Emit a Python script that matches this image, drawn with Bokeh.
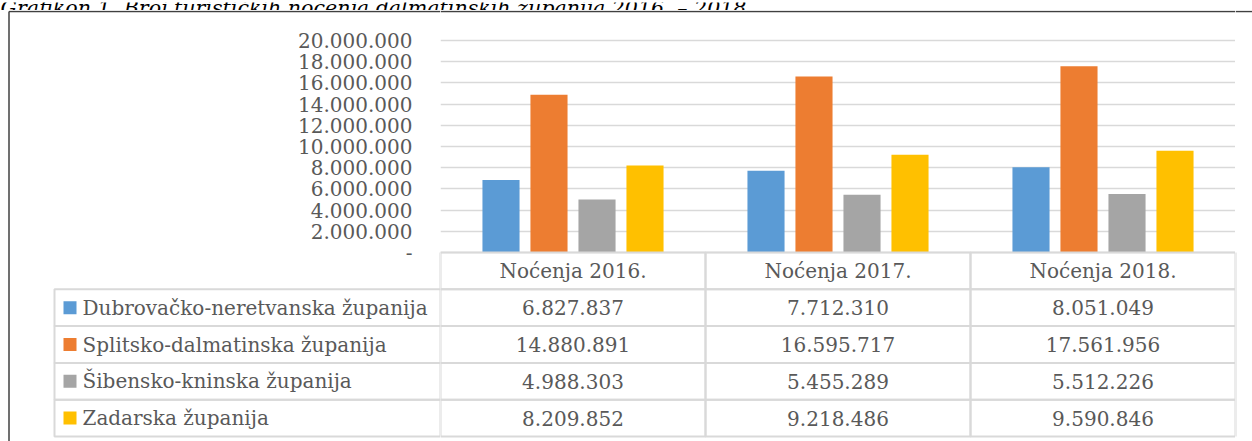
from bokeh.plotting import figure
from bokeh.layouts import column, row
from bokeh.models import ColumnDataSource, FactorRange, Range1d, FixedTicker, Grid
from bokeh.transform import dodge
from bokeh.core.properties import value
from bokeh.embed import file_html
from bokeh.resources import INLINE

# ---------------- data ----------------
title_text = "Grafikon 1. Broj turističkih noćenja dalmatinskih županija 2016. – 2018."
categories = ["Noćenja 2016.", "Noćenja 2017.", "Noćenja 2018."]
series_names = ["Dubrovačko-neretvanska županija", "Splitsko-dalmatinska županija",
                "Šibensko-kninska županija", "Zadarska županija"]
dubrovacko = [6827837, 7712310, 8051049]
splitsko = [14880891, 16595717, 17561956]
sibensko = [4988303, 5455289, 5512226]
zadarska = [8209852, 9218486, 9590846]
series_colors = ["#5B9BD5", "#ED7D31", "#A5A5A5", "#FFC000"]
y_ticks = [0, 2000000, 4000000, 6000000, 8000000, 10000000,
           12000000, 14000000, 16000000, 18000000, 20000000]
y_tick_labels = ["-", "2.000.000", "4.000.000", "6.000.000", "8.000.000", "10.000.000",
                 "12.000.000", "14.000.000", "16.000.000", "18.000.000", "20.000.000"]

# ---------------- layout / style constants (pixels) ----------------
FONT = "DejaVu Serif"
FS = "20px"
TXT = "#595959"
GRID = "#D9D9D9"
BOX = "#404040"
PAGE_W, PAGE_H = 1252, 441
TOP_H = 10                 # strip holding the (cut-off) caption
BODY_H = PAGE_H - TOP_H
LEFT_W = 440               # legend column / y labels
PLOT_R = 1235              # right edge of plot area and table
EDGE_W = PAGE_W - PLOT_R
MAIN_W = PLOT_R - LEFT_W
Y_ZERO = 252               # pixel row of value 0
Y_TOPTICK = 40             # pixel row of the highest tick
BOX_X, BOX_Y = 8.5, 11
TABLE_L = 54
ROW_H = 36.8
LEG_SQ_X = 69.5
LEG_TXT_X = 82
LABEL_R = 412

def fmt(v):
    return f"{v:,}".replace(",", ".")

series_values = [dubrovacko, splitsko, sibensko, zadarska]
keys = ["d", "s", "sib", "z"]

# value range mapped on the full body height
vpp = y_ticks[-1] / (Y_ZERO - Y_TOPTICK)
VR = Range1d(-(PAGE_H - Y_ZERO) * vpp, y_ticks[-1] + (Y_TOPTICK - TOP_H) * vpp)
PX = Range1d(PAGE_H, TOP_H)  # pixel rows, top-down
row_centers = [Y_ZERO + ROW_H * (i + 0.5) for i in range(len(series_names) + 1)]
table_bottom = Y_ZERO + ROW_H * (len(series_names) + 1)

def base(width, height, x_range, y_range):
    f = figure(width=width, height=height, x_range=x_range, y_range=y_range,
               output_backend="svg", toolbar_location=None, x_axis_location=None,
               y_axis_location=None, min_border=0)
    f.outline_line_color = None
    f.grid.visible = False
    return f

# ---------------- caption strip ----------------
top = base(PAGE_W, TOP_H, Range1d(0, PAGE_W), Range1d(TOP_H, 0))
top.text(x=[0], y=[5.5], text=[title_text], text_font=value(FONT), text_font_size="20.6px",
         text_font_style="italic", text_color="#000000", text_baseline="alphabetic",
         text_align="left")

# ---------------- left part: y labels + legend column ----------------
left = base(LEFT_W, BODY_H, Range1d(0, LEFT_W), VR)
left.extra_y_ranges = {"px": PX}
left.segment(x0=[BOX_X], y0=[BOX_Y], x1=[LEFT_W], y1=[BOX_Y], y_range_name="px",
             line_color=BOX, line_width=1.5)
left.segment(x0=[BOX_X], y0=[BOX_Y], x1=[BOX_X], y1=[PAGE_H], y_range_name="px",
             line_color=BOX, line_width=1.5)
left.text(x=LABEL_R, y=y_ticks, text=y_tick_labels, text_font=value(FONT),
          text_font_size=FS, text_color=TXT, text_align="right", text_baseline="middle")
left.segment(x0=[LEFT_W], y0=[Y_ZERO], x1=[LEFT_W], y1=[Y_ZERO + ROW_H], y_range_name="px",
             line_color=GRID, line_width=2)
left.rect(x=(TABLE_L + LEFT_W) / 2, y=row_centers[1:], width=LEFT_W - TABLE_L, height=ROW_H,
          y_range_name="px", fill_color=None, line_color=GRID, line_width=2)
left.rect(x=LEG_SQ_X, y=row_centers[1:], width=13, height=13, y_range_name="px",
          fill_color=series_colors, line_color=None)
left.text(x=LEG_TXT_X, y=row_centers[1:], text=series_names, y_range_name="px",
          text_font=value(FONT), text_font_size=FS, text_color=TXT,
          text_align="left", text_baseline="middle")

# ---------------- main part: bars + table values ----------------
main = base(MAIN_W, BODY_H, FactorRange(*categories, range_padding=0), VR)
main.extra_y_ranges = {"px": PX}
main.add_layout(Grid(dimension=1, ticker=FixedTicker(ticks=y_ticks),
                     grid_line_color=GRID, grid_line_width=1.5))
edge_src = ColumnDataSource(dict(c0=[categories[0]], c1=[categories[-1]], y=[BOX_Y]))
main.segment(x0=dodge("c0", -0.5, range=main.x_range), x1=dodge("c1", 0.5, range=main.x_range),
             y0="y", y1="y", source=edge_src, y_range_name="px",
             line_color=BOX, line_width=1.5)

src = ColumnDataSource(dict(cat=categories, d=dubrovacko, s=splitsko, sib=sibensko, z=zadarska))
offsets = [-0.2717, -0.0906, 0.0906, 0.2717]
for key, off, col in zip(keys, offsets, series_colors):
    main.vbar(x=dodge("cat", off, range=main.x_range), top=key, bottom=0, width=0.14,
              source=src, fill_color=col, line_color=None)

cell_x, cell_y, cell_t = [], [], []
for c in categories:
    cell_x.append(c); cell_y.append(row_centers[0]); cell_t.append(c)
for i, vals in enumerate(series_values):
    for c, v in zip(categories, vals):
        cell_x.append(c); cell_y.append(row_centers[i + 1]); cell_t.append(fmt(v))
cells = ColumnDataSource(dict(x=cell_x, y=cell_y, t=cell_t))
main.rect(x="x", y="y", width=1, height=ROW_H, source=cells, y_range_name="px",
          fill_color=None, line_color=GRID, line_width=2)
main.text(x="x", y="y", text="t", source=cells, y_range_name="px", text_font=value(FONT),
          text_font_size=FS, text_color=TXT, text_align="center", text_baseline="middle")

# ---------------- right edge strip ----------------
edge = base(EDGE_W, BODY_H, Range1d(PLOT_R, PAGE_W), PX)
edge.segment(x0=[PLOT_R], y0=[BOX_Y], x1=[PAGE_W], y1=[BOX_Y], line_color=BOX, line_width=1.5)
edge.segment(x0=[PLOT_R], y0=[Y_ZERO], x1=[PLOT_R], y1=[table_bottom], line_color=GRID,
             line_width=2)

layout = column(top, row(left, main, edge))
open("out.html", "w").write(file_html(layout, INLINE))
